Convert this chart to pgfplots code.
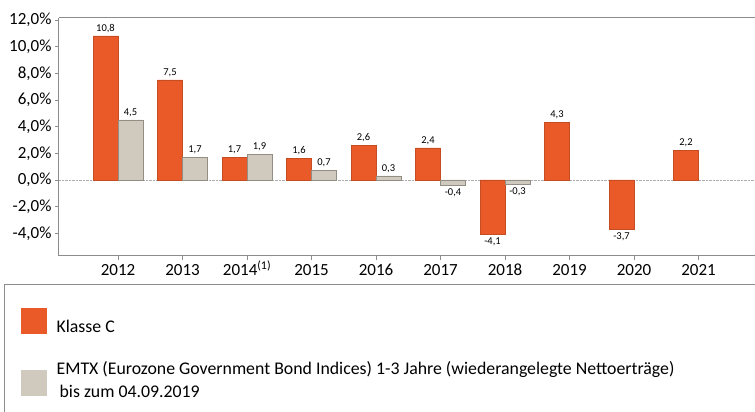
\documentclass[border=0pt]{standalone}
\usepackage{pgfplots}
\pgfplotsset{compat=1.18}
\usepackage{fontspec}
\setmainfont{Carlito}
\definecolor{orng}{RGB}{233,90,40}
\definecolor{gry}{RGB}{208,202,190}
\definecolor{axgray}{RGB}{140,140,140}
\begin{document}
\begin{tikzpicture}[x=1pt,y=1pt]
\begin{axis}[
  at={(59pt,156pt)}, anchor=south west,
  scale only axis, width=696pt, height=238pt,
  xmin=-0.915, xmax=9.876, ymin=-5.7, ymax=12.15,
  axis x line*=bottom, axis y line*=left,
  axis line style={axgray, line width=1pt},
  xtick={0,...,9},
  xticklabels={2012,2013,2014\textsuperscript{(1)},2015,2016,2017,2018,2019,2020,2021},
  ytick={-4,-2,...,12},
  yticklabels={{-4,0\%},{-2,0\%},{0,0\%},{2,0\%},{4,0\%},{6,0\%},{8,0\%},{10,0\%},{12,0\%}},
  tick style={axgray, line width=0.6pt}, major tick length=4pt, tick align=outside,
  ticklabel style={font=\fontsize{17}{20}\selectfont, black},
  xticklabel style={text height=12pt, text depth=3pt},
  ybar, bar width=25pt,
  point meta=y,
  nodes near coords={\pgfmathprintnumber[fixed, fixed zerofill, precision=1, use comma, assume math mode=true]{\pgfplotspointmeta}},
  nodes near coords align=vertical,
  every node near coord/.append style={font=\fontsize{10.5}{12}\selectfont, black},
  clip=false,
  legend style={at={(-0.0546,-0.2185)}, anchor=north west, draw=none, fill=none,
    inner sep=0pt, font=\fontsize{17.8}{23}\selectfont, column sep=8pt, row sep=24pt,
    cells={anchor=west, align=left, inner sep=0pt}},
]
\draw[axgray!70, densely dotted] (axis cs:-0.915,0) -- (axis cs:9.876,0);
\draw[axgray, line width=1pt] (rel axis cs:0,1) -- (rel axis cs:1,1);
\addplot[fill=orng, draw=orng!85!black, line width=0.4pt, bar shift=-12.5pt,
  legend image code/.code={\fill[orng] (0pt,-6.5pt) rectangle (25pt,18.5pt);}]
  table[x=x, y=y] {
x y
0 10.8
1 7.5
2 1.7
3 1.6
4 2.6
5 2.4
6 -4.1
7 4.3
8 -3.7
9 2.2
};
\addlegendentry{Klasse C}
\addplot[fill=gry, draw=gry!70!black, line width=0.4pt, bar shift=12.5pt,
  legend image code/.code={\fill[gry] (0pt,-14.5pt) rectangle (25pt,10.5pt);}]
  table[x=x, y=y] {
x y
0 4.5
1 1.7
2 1.9
3 0.7
4 0.3
5 -0.4
6 -0.3
};
\addlegendentry{EMTX (Eurozone Government Bond Indices) 1-3 Jahre (wiederangelegte Nettoerträge)\\ \hspace{3pt}bis zum 04.09.2019}
\end{axis}
\draw[axgray, line width=1pt] (4pt,-10pt) -- (4pt,127pt) -- (770pt,127pt);
\pgfresetboundingbox
\path[use as bounding box] (0pt,0pt) rectangle (755pt,412pt);
\end{tikzpicture}
\end{document}
